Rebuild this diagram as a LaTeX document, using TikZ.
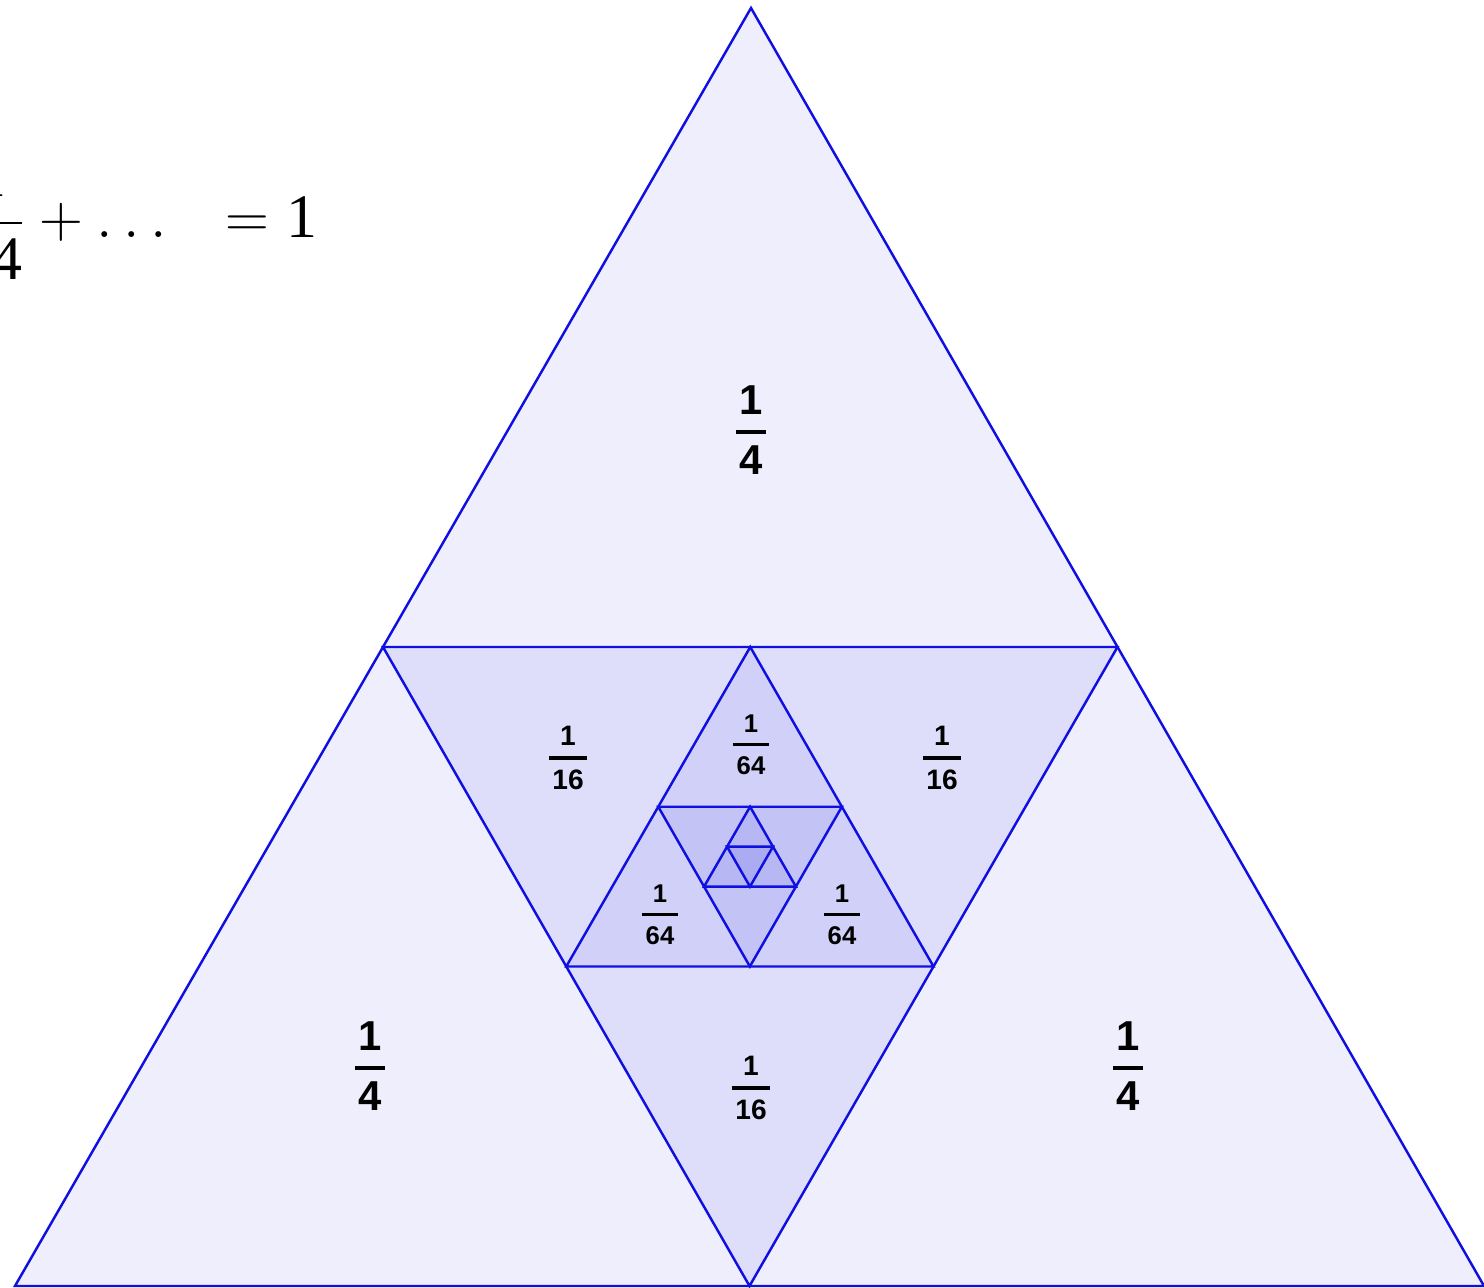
\documentclass[tikz,border=0pt]{standalone}
\usepackage{amsmath}
\usepackage{fontspec}
\setmainfont{Liberation Sans}
\newfontfamily\sumfont{Liberation Serif}
\usetikzlibrary{calc}
\definecolor{edgeblue}{RGB}{15,15,225}
\definecolor{shadeblue}{RGB}{30,30,220}
% one labelled piece: numerator, denominator, size, bar thickness
\newcommand{\piece}[4]{\fontsize{#3}{#3}\selectfont\bfseries
  $\genfrac{}{}{#4}{0}{\kern1pt\text{#1}\kern1pt}{\kern1pt\text{#2}\kern1pt}$}
\newcommand{\sfrac}[2]{\genfrac{}{}{0.6pt}{0}{\text{#1}}{\text{#2}}}
\tikzset{
  tri/.style={draw=edgeblue, line width=0.7pt, fill=shadeblue, fill opacity=0.075},
  lbl/.style={inner sep=0pt, text=black}
}
\begin{document}
\begin{tikzpicture}
\useasboundingbox (0,0) rectangle (14.84,12.88);
\clip (0,0) rectangle (14.84,12.88);
% corners of the big triangle
\coordinate (A) at (0.15,0.02);
\coordinate (B) at (14.84,0.02);
\coordinate (C) at (7.51,12.80);
% midpoints, level by level
\coordinate (D) at ($(A)!0.5!(C)$);
\coordinate (E) at ($(B)!0.5!(C)$);
\coordinate (F) at ($(A)!0.5!(B)$);
\coordinate (G) at ($(D)!0.5!(E)$);
\coordinate (H) at ($(D)!0.5!(F)$);
\coordinate (I) at ($(E)!0.5!(F)$);
\coordinate (J) at ($(G)!0.5!(H)$);
\coordinate (K) at ($(G)!0.5!(I)$);
\coordinate (L) at ($(H)!0.5!(I)$);
\coordinate (M) at ($(J)!0.5!(K)$);
\coordinate (N) at ($(J)!0.5!(L)$);
\coordinate (O) at ($(K)!0.5!(L)$);
\coordinate (P) at ($(M)!0.5!(N)$);
\coordinate (Q) at ($(M)!0.5!(O)$);
\coordinate (R) at ($(N)!0.5!(O)$);
\draw[tri] (A) -- (B) -- (C) -- cycle;
\draw[tri] (D) -- (E) -- (F) -- cycle;
\draw[tri] (G) -- (H) -- (I) -- cycle;
\draw[tri] (J) -- (K) -- (L) -- cycle;
\draw[tri] (M) -- (N) -- (O) -- cycle;
\draw[tri] (P) -- (Q) -- (R) -- cycle;
% the sum, cut off at the left border
\node[lbl, anchor=base east] (sum) at (3.18,10.50)
  {\sumfont\fontsize{17.6}{20}\selectfont
   $\sfrac{1}{4}+\sfrac{1}{16}+\sfrac{1}{64}+\ldots\hspace{12pt}=\text{1}$};
% quarters
\node[lbl] (qTop) at (7.51,8.58) {\piece{1}{4}{11.9}{1.1pt}};
\node[lbl] (qLeft) at (3.70,2.22) {\piece{1}{4}{11.9}{1.1pt}};
\node[lbl] (qRight) at (11.28,2.22) {\piece{1}{4}{11.9}{1.1pt}};
% sixteenths
\node[lbl] (sLeft) at (5.68,5.30) {\piece{1}{16}{8}{1pt}};
\node[lbl] (sRight) at (9.42,5.30) {\piece{1}{16}{8}{1pt}};
\node[lbl] (sBottom) at (7.51,2.00) {\piece{1}{16}{8}{1pt}};
% sixty-fourths
\node[lbl] (fTop) at (7.51,5.43) {\piece{1}{64}{7.3}{1pt}};
\node[lbl] (fLeft) at (6.60,3.73) {\piece{1}{64}{7.3}{1pt}};
\node[lbl] (fRight) at (8.42,3.73) {\piece{1}{64}{7.3}{1pt}};
\end{tikzpicture}
\end{document}
